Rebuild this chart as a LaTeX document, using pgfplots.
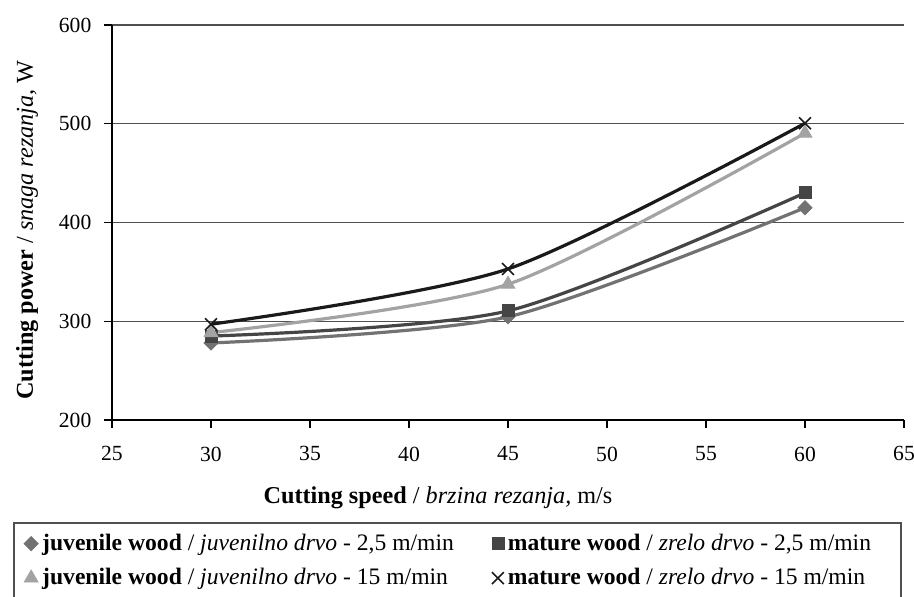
\documentclass[border=0pt]{standalone}
\usepackage{fontspec}
\setmainfont{Liberation Serif}
\usepackage{pgfplots}
\pgfplotsset{compat=1.18}
\definecolor{cDia}{HTML}{727272}
\definecolor{cSq}{HTML}{454545}
\definecolor{cTri}{HTML}{A3A3A3}
\definecolor{cX}{HTML}{1A1A1A}
\definecolor{cGrid}{HTML}{505050}
\newcommand{\fs}{\fontsize{10.8}{13}\selectfont}
\newcommand{\fl}{\fontsize{12.1}{14}\selectfont}
\newcommand{\fg}{\fontsize{11.8}{14}\selectfont}
\begin{document}
\begin{tikzpicture}
\useasboundingbox (-56pt,-88pt) rectangle (401pt,210pt);
\begin{axis}[
  scale only axis, width=396pt, height=197.5pt,
  xmin=25, xmax=65, ymin=200, ymax=600,
  xtick={25,30,...,65}, ytick={200,300,...,600},
  axis x line*=bottom, axis y line*=left,
  axis line style={black, line width=0.6pt},
  ymajorgrids, grid style={cGrid, line width=0.6pt},
  tick align=outside, major tick length=3.8pt,
  tick style={black, line width=0.6pt},
  /pgf/number format/assume math mode=true,
  tick label style={font=\fs},
  yticklabel style={xshift=-3pt},
  xticklabel style={yshift=-6pt},
  xlabel={\textbf{Cutting speed} / \textit{brzina rezanja,} m/s},
  ylabel={\textbf{Cutting power} / \textit{snaga rezanja,} W},
  label style={font=\fl},
  xlabel style={at={(axis description cs:0.4116,-0.197)}, anchor=center},
  ylabel style={at={(axis description cs:-0.107,0.481)}, anchor=center},
  legend columns=2,
  legend cell align=left,
  legend style={at={(axis description cs:-0.1115,-0.2774)}, anchor=north west,
    draw=none, fill=none, font=\fg, inner sep=0pt, row sep=3.5pt,
    /tikz/every even column/.append style={column sep=17pt}},
  legend image code/.code={\draw[mark repeat=2,mark phase=2,#1] plot coordinates {(0pt,0pt)(3pt,0pt)(6pt,0pt)};},
]
% lines
\addplot[forget plot, smooth, tension=0.45, cDia, line width=1.6pt] coordinates {(30,278) (45,304.5) (60,415)};
\addplot[forget plot, smooth, tension=0.45, cSq, line width=1.6pt] coordinates {(30,285) (45,310.5) (60,430)};
\addplot[forget plot, smooth, tension=0.45, cTri, line width=1.6pt] coordinates {(30,288.5) (45,337.5) (60,490.5)};
\addplot[forget plot, smooth, tension=0.45, cX, line width=1.6pt] coordinates {(30,297) (45,353) (60,500.5)};
% markers
\addplot[only marks, mark=square*, mark size=2.5pt, mark options={rotate=45, fill=cDia, draw=cDia}] coordinates {(30,278) (45,304.5) (60,415)};
\addlegendentry{\textbf{juvenile wood} / \textit{juvenilno drvo} - 2,5 m/min}
\addplot[only marks, mark=square*, mark size=3pt, mark options={fill=cSq, draw=cSq}] coordinates {(30,285) (45,310.5) (60,430)};
\addlegendentry{\textbf{mature wood} / \textit{zrelo drvo} - 2,5 m/min}
\addplot[only marks, mark=triangle*, mark size=4pt, mark options={fill=cTri, draw=cTri}] coordinates {(30,288.5) (45,337.5) (60,490.5)};
\addlegendentry{\textbf{juvenile wood} / \textit{juvenilno drvo} - 15 m/min}
\addplot[only marks, mark=x, mark size=4.2pt, mark options={draw=cX, line width=0.8pt}] coordinates {(30,297) (45,353) (60,500.5)};
\addlegendentry{\textbf{mature wood} / \textit{zrelo drvo} - 15 m/min}
\end{axis}
\draw[color={cGrid}, line width=0.6pt] (-49pt,-51.5pt) rectangle (394.5pt,-92pt);
\end{tikzpicture}
\end{document}
